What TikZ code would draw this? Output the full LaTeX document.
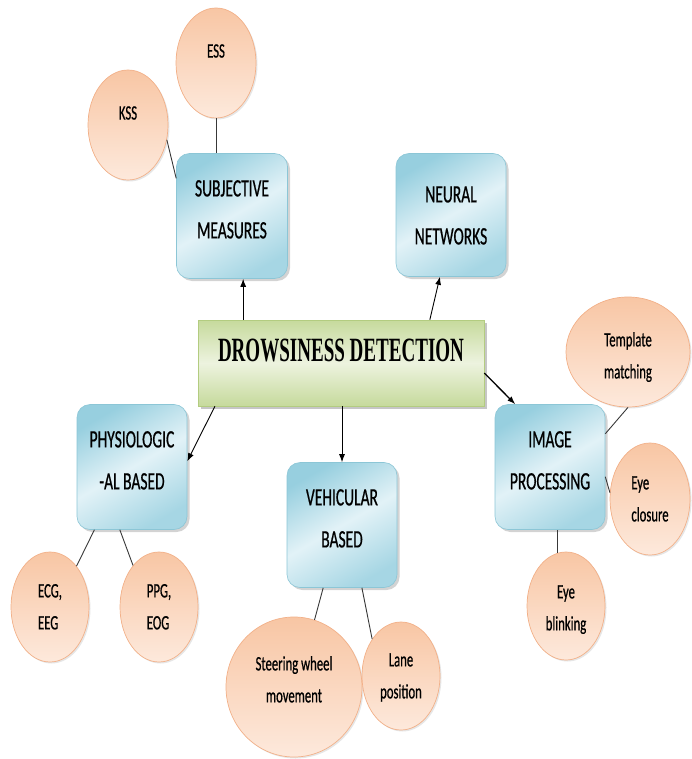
\documentclass[tikz,border=0pt]{standalone}
\usepackage{fontspec}
\setmainfont[FakeStretch=0.62,FakeBold=0.6]{Carlito}
\newfontfamily\ttlfont[FakeStretch=0.56]{Liberation Serif}
\usetikzlibrary{shapes.geometric,arrows.meta,shadows,calc}
\newcommand\mylines[3]{\raisebox{#1}[\height][\depth]{\begin{tabular}{@{}#2@{}}#3\end{tabular}}}
\newcommand\myraise[2]{\raisebox{#1}[\height][\depth]{#2}}
\definecolor{bluedark}{HTML}{97CFDF}
\definecolor{bluelight}{HTML}{E2F2F7}
\definecolor{blueedge}{HTML}{8CC6D6}
\definecolor{greendark}{HTML}{C6DA9C}
\definecolor{greenlight}{HTML}{EDF3DF}
\definecolor{greenedge}{HTML}{B3CC80}
\definecolor{peachdark}{HTML}{F8C6A4}
\definecolor{peachlight}{HTML}{FDE9DC}
\definecolor{peachedge}{HTML}{F2B088}
\definecolor{linegray}{HTML}{383838}
\begin{document}
\begin{tikzpicture}[x=1pt,y=-1pt,
  mbox/.style={rectangle, rounded corners=13pt, draw=blueedge, line width=0.6pt,
    top color=bluedark, bottom color=bluedark!80!bluelight, middle color=bluelight,
    shading angle=30, inner sep=0pt,
    font=\fontsize{25}{42}\selectfont,
    drop shadow={shadow xshift=2.5pt, shadow yshift=-2.5pt, opacity=0.35, fill=gray}},
  ell/.style={ellipse, draw=peachedge, line width=0.7pt,
    top color=peachdark, bottom color=peachlight, inner sep=0pt,
    font=\fontsize{20.5}{32}\selectfont,
    drop shadow={shadow xshift=1.5pt, shadow yshift=-1.5pt, opacity=0.2, fill=gray}},
  cn/.style={draw=linegray, line width=0.9pt},
  ar/.style={draw=black, line width=0.9pt, -{Latex[length=8pt,width=6pt]}}
]
\useasboundingbox (0,0) rectangle (691,759);

% central node
\node[rectangle, draw=greenedge, line width=0.6pt,
  top color=greendark, bottom color=greendark, middle color=greenlight,
  minimum width=286pt, minimum height=86pt, inner sep=0pt,
  drop shadow={shadow xshift=3pt, shadow yshift=-3pt, opacity=0.45, fill=gray}]
  (dd) at (341,363) {};
\node[font=\ttlfont\bfseries\fontsize{34}{40}\selectfont, inner sep=0pt]
  (ddt) at (341,350) {DROWSINESS DETECTION};

% blue boxes
\node[mbox, minimum width=111pt, minimum height=125pt] (sm) at (232,216) {\mylines{7pt}{c}{SUBJECTIVE\\MEASURES}};
\node[mbox, minimum width=110pt, minimum height=123pt] (nn) at (451,215) {\mylines{0pt}{c}{NEURAL\\NETWORKS}};
\node[mbox, minimum width=110pt, minimum height=125pt] (phy) at (132,467) {\mylines{7pt}{c}{PHYSIOLOGIC\\-AL BASED}};
\node[mbox, minimum width=110pt, minimum height=125pt] (vb) at (342,525) {\mylines{7pt}{c}{VEHICULAR\\BASED}};
\node[mbox, minimum width=110pt, minimum height=125pt] (ip) at (550,467) {\mylines{7pt}{c}{IMAGE\\PROCESSING}};

% ellipses
\node[ell, minimum width=80pt, minimum height=110pt] (kss) at (128,125) {\myraise{12pt}{KSS}};
\node[ell, minimum width=80pt, minimum height=110pt] (ess) at (216,63) {\myraise{12pt}{ESS}};
\node[ell, minimum width=124pt, minimum height=110pt] (tm) at (628,352) {\mylines{-4pt}{c}{Template\\matching}};
\node[ell, minimum width=80pt, minimum height=112pt] (ec) at (650,499) {\mylines{0pt}{l}{Eye\\closure}};
\node[ell, minimum width=78pt, minimum height=108pt] (eb) at (566,606) {\mylines{-2pt}{c}{Eye\\blinking}};
\node[ell, minimum width=78pt, minimum height=110pt] (ecg) at (50,607) {\mylines{0pt}{l}{ECG,\\EEG}};
\node[ell, minimum width=78pt, minimum height=110pt] (ppg) at (159,607) {\mylines{0pt}{l}{PPG,\\EOG}};
\node[ell, minimum width=136pt, minimum height=140pt] (sw) at (294,687) {\mylines{7pt}{c}{Steering wheel\\movement}};
\node[ell, minimum width=78pt, minimum height=108pt] (lp) at (401,676) {\mylines{0pt}{c}{Lane\\position}};

% connectors to ellipses
\draw[cn] (kss.-21) -- (sm.146);
\draw[cn] (ess.south) -- (ess.south |- sm.north);
\draw[cn] (tm.south) -- (ip.31);
\draw[cn] (ec.171) -- (ip.-10);
\draw[cn] (eb.99) -- (eb.99 |- ip.south);
\draw[cn] ($(phy.south west)!0.16!(phy.south east)$) -- (ecg.57);
\draw[cn] ($(phy.south west)!0.39!(phy.south east)$) -- (ppg.122);
\draw[cn] ($(vb.south west)!0.33!(vb.south east)$) -- (sw.73);
\draw[cn] ($(vb.south west)!0.68!(vb.south east)$) -- (lp.128);

% arrows from the centre
\coordinate (a1) at ($(sm.south west)!0.6!(sm.south east)$);
\draw[ar] (a1 |- dd.north) -- (a1);
\coordinate (a2) at ($(nn.south west)!0.4!(nn.south east)$);
\coordinate (a2s) at ($(dd.north west)!0.81!(dd.north east)$);
\draw[ar] (a2s) -- (a2);
\draw[ar, line width=1.3pt] (dd.-4.8) -- (ip.119);
\coordinate (a3) at ($(dd.south west)!0.06!(dd.south east)$);
\draw[ar] (a3) -- (phy.6);
\draw[ar] (dd.south -| vb.north) -- (vb.north);
\end{tikzpicture}
\end{document}
